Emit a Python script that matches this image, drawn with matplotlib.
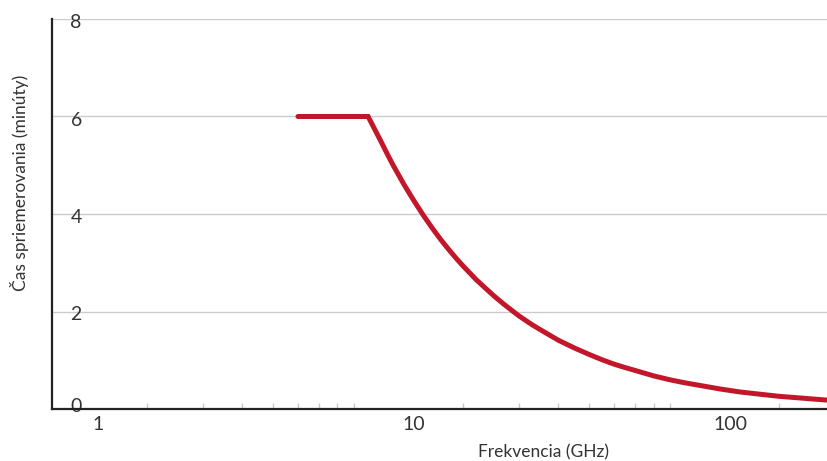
import matplotlib
matplotlib.use("Agg")
import matplotlib.pyplot as plt
from matplotlib.transforms import ScaledTranslation
from matplotlib.ticker import FixedLocator, NullFormatter

# Data
freq_ghz = [6, 10, 11, 11.5, 12, 13, 14, 15, 16, 17, 18, 19, 20, 22, 25,
            27, 30, 33, 35, 40, 45, 50, 55, 60, 65, 70, 80, 90, 100, 120, 130,
            150, 170, 200, 250, 300]
avg_time_min = [6.0, 6.0, 5.48, 5.23, 5.00, 4.60, 4.26, 3.96, 3.70, 3.47,
                3.27, 3.09, 2.93, 2.65, 2.32, 2.14, 1.91, 1.73, 1.63, 1.41,
                1.25, 1.12, 1.01, 0.92, 0.85, 0.79, 0.68, 0.60, 0.54, 0.45,
                0.41, 0.35, 0.31, 0.26, 0.21, 0.17]
major_x = [1, 10, 100]
major_x_labels = ["1", "10", "100"]
minor_x = [2, 3, 4, 5, 6, 7, 8, 9, 10, 20, 30, 40, 50, 60, 70, 80, 90, 100, 200]
y_ticks = [0, 2, 4, 6, 8]
x_label = "Frekvencia (GHz)"
y_label = "Čas spriemerovania (minúty)"

plt.rcParams['font.family'] = ['Lato', 'DejaVu Sans']

W, H = 827, 461
fig = plt.figure(figsize=(W / 100, H / 100), dpi=100)
ax = fig.add_axes([52 / W, 1 - 409 / H, (W - 52) / W, (409 - 19) / H])

ax.plot(freq_ghz, avg_time_min, color="#c2172b", lw=3.6,
        solid_capstyle="round", solid_joinstyle="miter", zorder=3, clip_on=True)

ax.set_xscale("log")
ax.set_xlim(1, 283)
ax.set_ylim(0, 8)

# grid
ax.set_yticks(y_ticks)
ax.yaxis.grid(True, color="#cccccc", lw=1)
ax.xaxis.grid(False)
ax.set_axisbelow(True)

# y tick labels inside the plot
ax.tick_params(axis="y", length=0, pad=-21.5, labelsize=14, labelcolor="#333333")
for lab, v in zip(ax.get_yticklabels(), y_ticks):
    lab.set_horizontalalignment("right")
    dy = 4 / 100 if v == 0 else -2 / 100
    lab.set_transform(lab.get_transform() + ScaledTranslation(0, dy, fig.dpi_scale_trans))

# x ticks
ax.xaxis.set_major_locator(FixedLocator(major_x))
ax.set_xticklabels(major_x_labels)
ax.xaxis.set_minor_locator(FixedLocator(minor_x))
ax.xaxis.set_minor_formatter(NullFormatter())
ax.tick_params(axis="x", which="major", length=0, pad=5, labelsize=14, labelcolor="#333333")
ax.tick_params(axis="x", which="minor", direction="in", length=4.5, width=1, color="#c8c8c8")
for lab in ax.get_xticklabels():
    lab.set_transform(lab.get_transform() + ScaledTranslation(46 / 100, 0, fig.dpi_scale_trans))

for s in ["top", "right"]:
    ax.spines[s].set_visible(False)
for s in ["left", "bottom"]:
    ax.spines[s].set_color("#222222")
    ax.spines[s].set_linewidth(1.6)

fig.text(543 / W, 1 - 452 / H, x_label, ha="center", va="center",
         fontsize=12.5, color="#333333")
fig.text(20 / W, 1 - 183 / H, y_label, ha="center", va="center",
         rotation=90, fontsize=12.5, color="#333333")

fig.savefig("out.png", dpi=100)
